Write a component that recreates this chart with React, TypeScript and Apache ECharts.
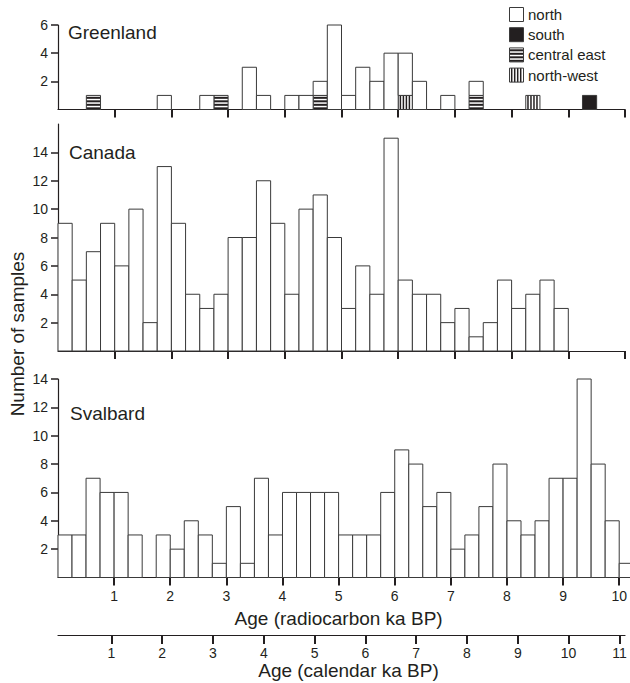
import React, { useEffect, useRef } from "react";
import * as echarts from "echarts";

// ---- data ----
const BIN_WIDTH = 0.25; // ka (radiocarbon) per histogram bin, bins start at 0
const X_TICKS = [1, 2, 3, 4, 5, 6, 7, 8, 9, 10];
const CAL_TICKS = [1, 2, 3, 4, 5, 6, 7, 8, 9, 10, 11];
const GREENLAND_Y_TICKS = [2, 4, 6];
const CANADA_Y_TICKS = [2, 4, 6, 8, 10, 12, 14];
const SVALBARD_Y_TICKS = [2, 4, 6, 8, 10, 12, 14];

const greenlandNorth = [0, 0, 0, 0, 0, 0, 0, 1, 0, 0, 1, 0, 0, 3, 1, 0, 1, 1, 1, 6, 1, 3, 2, 4, 3, 2, 0, 1, 0, 1, 0, 0, 0, 0, 0, 0, 0, 0, 0, 0];
const greenlandSouth = [0, 0, 0, 0, 0, 0, 0, 0, 0, 0, 0, 0, 0, 0, 0, 0, 0, 0, 0, 0, 0, 0, 0, 0, 0, 0, 0, 0, 0, 0, 0, 0, 0, 0, 0, 0, 0, 1, 0, 0];
const greenlandCentralEast = [0, 0, 1, 0, 0, 0, 0, 0, 0, 0, 0, 1, 0, 0, 0, 0, 0, 0, 1, 0, 0, 0, 0, 0, 0, 0, 0, 0, 0, 1, 0, 0, 0, 0, 0, 0, 0, 0, 0, 0];
const greenlandNorthWest = [0, 0, 0, 0, 0, 0, 0, 0, 0, 0, 0, 0, 0, 0, 0, 0, 0, 0, 0, 0, 0, 0, 0, 0, 1, 0, 0, 0, 0, 0, 0, 0, 0, 1, 0, 0, 0, 0, 0, 0];
const canada = [9, 5, 7, 9, 6, 10, 2, 13, 9, 4, 3, 4, 8, 8, 12, 9, 4, 10, 11, 8, 3, 6, 4, 15, 5, 4, 4, 2, 3, 1, 2, 5, 3, 4, 5, 3, 0, 0, 0, 0];
const svalbard = [3, 3, 7, 6, 6, 3, 0, 3, 2, 4, 3, 1, 5, 1, 7, 3, 6, 6, 6, 6, 3, 3, 3, 6, 9, 8, 5, 6, 2, 3, 5, 8, 4, 3, 4, 7, 7, 14, 8, 4, 1];

const LEGEND = ["north", "south", "central east", "north-west"];

// ---- styles ----
const FONT = "'Liberation Sans', Arial, Helvetica, sans-serif";
const INK = "#231f20";
const EDGE = "#3a3a3a";

type Kind = "north" | "south" | "central east" | "north-west";

function patternChildren(kind: Kind, x: number, y: number, w: number, h: number): any[] {
  const kids: any[] = [];
  const fill = kind === "south" ? INK : "#ffffff";
  kids.push({ type: "rect", shape: { x, y, width: w, height: h }, style: { fill, stroke: null } });
  if (kind === "central east") {
    for (let yy = y + 2.4; yy < y + h - 0.8; yy += 3.5) {
      kids.push({ type: "line", shape: { x1: x, y1: yy, x2: x + w, y2: yy }, style: { stroke: INK, lineWidth: 2 } });
    }
  } else if (kind === "north-west") {
    for (let xx = x + 2.2; xx < x + w - 0.8; xx += 3) {
      kids.push({ type: "line", shape: { x1: xx, y1: y, x2: xx, y2: y + h }, style: { stroke: INK, lineWidth: 1.5 } });
    }
  }
  kids.push({ type: "rect", shape: { x, y, width: w, height: h }, style: { fill: "none", stroke: EDGE, lineWidth: 1 } });
  return kids;
}

function barSeries(name: string, kind: Kind, values: number[], bases: number[] | null, gridIndex: number) {
  const data: number[][] = [];
  values.forEach((v, i) => {
    if (v > 0) data.push([i * BIN_WIDTH, v, bases ? bases[i] : 0]);
  });
  return {
    type: "custom",
    name,
    xAxisIndex: gridIndex,
    yAxisIndex: gridIndex,
    clip: false,
    silent: true,
    encode: { x: 0, y: 1 },
    data,
    renderItem: (_params: any, api: any) => {
      const start = api.value(0);
      const count = api.value(1);
      const base = api.value(2);
      const p0 = api.coord([start, base]);
      const p1 = api.coord([start + BIN_WIDTH, base + count]);
      const x = p0[0];
      const y = p1[1];
      const w = p1[0] - p0[0];
      const h = p0[1] - p1[1];
      return { type: "group", children: patternChildren(kind, x, y, w, h) };
    },
  };
}

function valueXAxis(gridIndex: number, extra: any = {}) {
  return {
    gridIndex,
    type: "value",
    min: 0,
    max: 10,
    axisLine: { show: true, onZero: false, lineStyle: { color: INK, width: 1.2 } },
    axisTick: { show: true, customValues: X_TICKS, length: 8, lineStyle: { color: INK, width: 2 } },
    axisLabel: { show: false },
    splitLine: { show: false },
    ...extra,
  };
}

function countYAxis(gridIndex: number, max: number, ticks: number[]) {
  return {
    gridIndex,
    type: "value",
    min: 0,
    max,
    axisLine: { show: true, onZero: false, lineStyle: { color: INK, width: 1.2 } },
    axisTick: { show: true, customValues: ticks, length: 7, lineStyle: { color: INK, width: 1.5 } },
    axisLabel: { show: true, customValues: ticks, fontSize: 14, color: INK, margin: 10, fontFamily: FONT },
    splitLine: { show: false },
  };
}

function legendGraphics(): any[] {
  const out: any[] = [];
  const kinds: Kind[] = ["north", "south", "central east", "north-west"];
  const x0 = 509.5;
  const size = 14;
  kinds.forEach((k, i) => {
    const top = 7.5 + i * 20.2;
    out.push({ type: "group", children: patternChildren(k, x0, top, size, size) });
    out.push({
      type: "text",
      x: 528,
      y: top + size / 2,
      style: {
        text: LEGEND[i],
        fontSize: 15,
        fontFamily: FONT,
        fill: INK,
        textAlign: "left",
        textVerticalAlign: "middle",
        align: "left",
        verticalAlign: "middle",
      },
    });
  });
  return out;
}

function label(text: string, x: number, y: number, extra: any = {}) {
  return {
    type: "text",
    x,
    y,
    ...extra,
    style: {
      text,
      fontSize: 19,
      fontFamily: FONT,
      fill: INK,
      textAlign: "left",
      textVerticalAlign: "middle",
      align: "left",
      verticalAlign: "middle",
      ...(extra.style || {}),
    },
  };
}

export default function App() {
  const ref = useRef<HTMLDivElement>(null);
  useEffect(() => {
    if (!ref.current) return;
    const chart = echarts.init(ref.current, undefined, { renderer: "svg" });
    const northBase = greenlandNorth.map((_, i) => greenlandSouth[i] + greenlandCentralEast[i] + greenlandNorthWest[i]);
    const option: any = {
      animation: false,
      backgroundColor: "#ffffff",
      textStyle: { fontFamily: FONT, color: INK },
      grid: [
        { left: 58, top: 25, width: 567, height: 84.5 },
        { left: 58, top: 124, width: 567, height: 227 },
        { left: 58, top: 379, width: 567, height: 198.5 },
        { left: 58, top: 630, width: 567, height: 5 },
      ],
      xAxis: [
        valueXAxis(0),
        valueXAxis(1),
        valueXAxis(2, {
          axisLabel: { show: true, customValues: X_TICKS, fontSize: 14, color: INK, margin: 11, fontFamily: FONT },
          name: "Age (radiocarbon ka BP)",
          nameLocation: "middle",
          nameGap: 31,
          nameTextStyle: { fontSize: 19, color: INK, fontFamily: FONT },
        }),
        {
          gridIndex: 3,
          type: "value",
          min: -0.05,
          max: 11.11,
          axisLine: { show: true, onZero: false, lineStyle: { color: INK, width: 1.2 } },
          axisTick: { show: true, customValues: CAL_TICKS, length: 9, lineStyle: { color: INK, width: 2 } },
          axisLabel: { show: true, customValues: CAL_TICKS, fontSize: 14, color: INK, margin: 11, fontFamily: FONT },
          splitLine: { show: false },
          name: "Age (calendar ka BP)",
          nameLocation: "middle",
          nameGap: 25,
          nameTextStyle: { fontSize: 19, color: INK, fontFamily: FONT, padding: [0, 0, 0, 14] },
        },
      ],
      yAxis: [
        countYAxis(0, 6, GREENLAND_Y_TICKS),
        countYAxis(1, 16, CANADA_Y_TICKS),
        countYAxis(2, 14, SVALBARD_Y_TICKS),
        { gridIndex: 3, type: "value", min: 0, max: 1, show: false },
      ],
      series: [
        barSeries("south", "south", greenlandSouth, null, 0),
        barSeries("central east", "central east", greenlandCentralEast, null, 0),
        barSeries("north-west", "north-west", greenlandNorthWest, null, 0),
        barSeries("north", "north", greenlandNorth, northBase, 0),
        barSeries("Canada", "north", canada, null, 1),
        barSeries("Svalbard", "north", svalbard, null, 2),
      ],
      graphic: [
        label("Greenland", 68, 32),
        label("Canada", 69, 152),
        label("Svalbard", 70, 413),
        label("Number of samples", 17, 334, {
          rotation: Math.PI / 2,
          style: { textAlign: "center", align: "center" },
        }),
        ...legendGraphics(),
      ],
    };
    chart.setOption(option);
    return () => chart.dispose();
  }, []);
  return <div ref={ref} style={{ position: "absolute", left: 0, top: 0, width: 630, height: 683 }} />;
}
